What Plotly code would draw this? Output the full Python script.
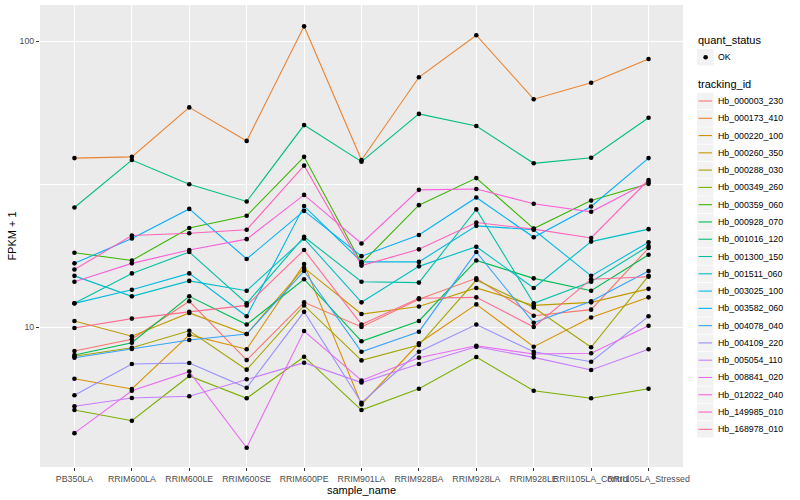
import plotly.graph_objects as go

samples = ["PB350LA", "RRIM600LA", "RRIM600LE", "RRIM600SE", "RRIM600PE", "RRIM901LA",
           "RRIM928BA", "RRIM928LA", "RRIM928LE", "RRII105LA_Control", "RRII105LA_Stressed"]

tracking_ids = ["Hb_000003_230", "Hb_000173_410", "Hb_000220_100", "Hb_000260_350",
                "Hb_000288_030", "Hb_000349_260", "Hb_000359_060", "Hb_000928_070",
                "Hb_001016_120", "Hb_001300_150", "Hb_001511_060", "Hb_003025_100",
                "Hb_003582_060", "Hb_004078_040", "Hb_004109_220", "Hb_005054_110",
                "Hb_008841_020", "Hb_012022_040", "Hb_149985_010", "Hb_168978_010"]

palette = ["#F8766D", "#EA8331", "#D89000", "#C09B00", "#A3A500", "#7CAE00", "#39B600",
           "#00BB4E", "#00BF7D", "#00C1A3", "#00BFC4", "#00BAE0", "#00B0F6", "#35A2FF",
           "#9590FF", "#C77CFF", "#E76BF3", "#FA62DB", "#FF62BC", "#FF6C91"]

# FPKM + 1 values, one list per tracking_id (order follows `samples`)
Hb_000003_230 = [8.24, 9.06, 12.3, 7.66, 12.2, 10.0, 12.5, 14.8, 10.95, 11.5, 18.9]
Hb_000173_410 = [39.0, 39.4, 58.7, 44.8, 112.8, 38.4, 74.8, 105.0, 62.7, 71.6, 86.7]
Hb_000220_100 = [6.59, 6.07, 9.38, 8.36, 16.6, 5.36, 8.77, 12.0, 8.53, 10.8, 12.7]
Hb_000260_350 = [10.5, 9.28, 11.2, 9.45, 16.1, 11.1, 11.8, 13.7, 11.9, 12.2, 13.6]
Hb_000288_030 = [7.90, 8.46, 9.70, 7.09, 11.9, 7.64, 8.65, 14.6, 11.7, 8.49, 15.1]
Hb_000349_260 = [5.12, 4.70, 6.74, 5.63, 7.87, 5.12, 6.08, 7.85, 5.98, 5.63, 6.08]
Hb_000359_060 = [18.2, 17.1, 22.2, 24.5, 39.4, 16.7, 26.7, 33.2, 22.1, 27.7, 31.7]
Hb_000928_070 = [7.98, 8.81, 12.8, 10.2, 14.7, 8.91, 10.5, 17.1, 14.8, 13.4, 17.9]
Hb_001016_120 = [26.2, 38.4, 31.6, 27.5, 50.9, 37.9, 55.7, 50.5, 37.4, 39.1, 54.0]
Hb_001300_150 = [12.1, 15.4, 18.3, 12.1, 20.7, 14.4, 14.3, 25.8, 12.1, 14.4, 19.2]
Hb_001511_060 = [15.1, 12.8, 14.5, 13.4, 20.4, 12.2, 16.3, 19.1, 13.7, 19.9, 22.0]
Hb_003025_100 = [12.1, 13.5, 15.4, 10.9, 26.5, 16.9, 16.9, 22.6, 21.9, 15.1, 19.8]
Hb_003582_060 = [16.7, 20.4, 25.9, 17.3, 25.5, 17.7, 21.0, 28.4, 20.6, 26.4, 39.0]
Hb_004078_040 = [7.81, 8.38, 9.01, 9.45, 15.7, 8.19, 9.63, 18.3, 10.35, 12.3, 15.7]
Hb_004109_220 = [5.77, 7.42, 7.48, 6.13, 11.3, 5.43, 8.19, 10.2, 8.19, 7.56, 10.9]
Hb_005054_110 = [5.28, 5.64, 5.72, 6.56, 7.50, 6.39, 7.42, 8.53, 7.83, 7.07, 8.36]
Hb_008841_020 = [4.25, 5.98, 6.98, 3.78, 9.68, 6.50, 7.81, 8.60, 8.04, 8.09, 10.1]
Hb_012022_040 = [14.4, 16.7, 18.6, 20.3, 29.0, 19.6, 30.2, 30.4, 27.0, 25.3, 32.2]
Hb_149985_010 = [15.9, 20.9, 21.3, 21.9, 36.7, 16.4, 18.7, 23.2, 22.0, 20.5, 32.7]
Hb_168978_010 = [9.92, 10.7, 11.3, 11.9, 18.6, 10.2, 12.6, 12.7, 10.0, 14.7, 15.0]

series = {
    "Hb_000003_230": Hb_000003_230, "Hb_000173_410": Hb_000173_410,
    "Hb_000220_100": Hb_000220_100, "Hb_000260_350": Hb_000260_350,
    "Hb_000288_030": Hb_000288_030, "Hb_000349_260": Hb_000349_260,
    "Hb_000359_060": Hb_000359_060, "Hb_000928_070": Hb_000928_070,
    "Hb_001016_120": Hb_001016_120, "Hb_001300_150": Hb_001300_150,
    "Hb_001511_060": Hb_001511_060, "Hb_003025_100": Hb_003025_100,
    "Hb_003582_060": Hb_003582_060, "Hb_004078_040": Hb_004078_040,
    "Hb_004109_220": Hb_004109_220, "Hb_005054_110": Hb_005054_110,
    "Hb_008841_020": Hb_008841_020, "Hb_012022_040": Hb_012022_040,
    "Hb_149985_010": Hb_149985_010, "Hb_168978_010": Hb_168978_010,
}

quant_status = "OK"

# ---------------------------------------------------------------- layout geometry
W, H = 800, 500
ML, MR, MT, MB = 40, 117, 5, 33
PW, PH = W - ML - MR, H - MT - MB


def px_x(px):
    return (px - ML) / PW


def px_y(py):
    return (H - MB - py) / PH


FONT = "Liberation Sans, Arial, Helvetica, sans-serif"

fig = go.Figure()

for tid, col in zip(tracking_ids, palette):
    fig.add_trace(go.Scatter(
        x=samples, y=series[tid], mode="lines", name=tid,
        line=dict(color=col, width=1.1), showlegend=False,
        hovertemplate=tid + "<br>%{x}: %{y}<extra></extra>",
    ))

pts_x, pts_y = [], []
for tid in tracking_ids:
    pts_x += samples
    pts_y += series[tid]
fig.add_trace(go.Scatter(
    x=pts_x, y=pts_y, mode="markers", name=quant_status,
    marker=dict(color="black", size=4.6), showlegend=False,
))

# ---------------------------------------------------------------- manual ggplot-style legend
shapes, annotations = [], []
KEY = 17.28
LX = 697


def key_box(cy):
    shapes.append(dict(type="rect", xref="paper", yref="paper",
                       x0=px_x(LX), x1=px_x(LX + KEY - 0.8),
                       y0=px_y(cy + KEY / 2 - 0.4), y1=px_y(cy - KEY / 2 + 0.4),
                       fillcolor="#F2F2F2", line=dict(width=0), layer="below"))


annotations.append(dict(text="quant_status", xref="paper", yref="paper",
                        x=px_x(LX - 1), y=px_y(40.5), xanchor="left", yanchor="middle",
                        showarrow=False, font=dict(size=11, color="black", family=FONT)))
ok_c = 57.2
key_box(ok_c)
shapes.append(dict(type="circle", xref="paper", yref="paper",
                   x0=px_x(LX + KEY / 2 - 2.3), x1=px_x(LX + KEY / 2 + 2.3),
                   y0=px_y(ok_c + 2.3), y1=px_y(ok_c - 2.3),
                   fillcolor="black", line=dict(width=0)))
annotations.append(dict(text=quant_status, xref="paper", yref="paper",
                        x=px_x(LX + KEY + 1.5), y=px_y(ok_c), xanchor="left", yanchor="middle",
                        showarrow=False, font=dict(size=8.8, color="black", family=FONT)))

annotations.append(dict(text="tracking_id", xref="paper", yref="paper",
                        x=px_x(LX - 1), y=px_y(84.2), xanchor="left", yanchor="middle",
                        showarrow=False, font=dict(size=11, color="black", family=FONT)))
for i, (tid, col) in enumerate(zip(tracking_ids, palette)):
    cy = 101.0 + i * KEY
    key_box(cy)
    shapes.append(dict(type="line", xref="paper", yref="paper",
                       x0=px_x(LX + 1.5), x1=px_x(LX + KEY - 2.3),
                       y0=px_y(cy), y1=px_y(cy),
                       line=dict(color=col, width=1.1)))
    annotations.append(dict(text=tid, xref="paper", yref="paper",
                            x=px_x(LX + KEY + 1.8), y=px_y(cy), xanchor="left", yanchor="middle",
                            showarrow=False, font=dict(size=8.8, color="black", family=FONT)))

fig.update_layout(
    width=W, height=H,
    margin=dict(l=ML, r=MR, t=MT, b=MB, pad=0),
    paper_bgcolor="white", plot_bgcolor="#EBEBEB",
    font=dict(family=FONT, color="black"),
    showlegend=False,
    shapes=shapes, annotations=annotations,
    xaxis=dict(
        type="category", categoryorder="array", categoryarray=samples,
        range=[-0.6, len(samples) - 0.4],
        showgrid=True, gridcolor="white", gridwidth=1.1, zeroline=False,
        ticks="outside", ticklen=3, tickwidth=1, tickcolor="#333333",
        tickangle=0, tickfont=dict(size=8.8, color="#4D4D4D", family=FONT),
        showline=False, automargin=False,
        title=dict(text="sample_name", font=dict(size=11, color="black", family=FONT), standoff=3),
    ),
    yaxis=dict(
        type="log", range=[0.510, 2.127],
        tickmode="array", tickvals=[10, 100], ticktext=["10", "100"],
        showgrid=True, gridcolor="white", gridwidth=1.1, zeroline=False,
        minor=dict(tickmode="array", tickvals=[3.1623, 31.623], showgrid=True,
                   gridcolor="white", gridwidth=0.55, ticks=""),
        ticks="outside", ticklen=3, tickwidth=1, tickcolor="#333333",
        tickfont=dict(size=8.8, color="#4D4D4D", family=FONT),
        showline=False, automargin=False,
        title=dict(text="FPKM + 1", font=dict(size=11, color="black", family=FONT), standoff=0),
    ),
)

fig.write_html("out.html", config={"displayModeBar": False},
               post_script="document.body.style.margin='0px';")
